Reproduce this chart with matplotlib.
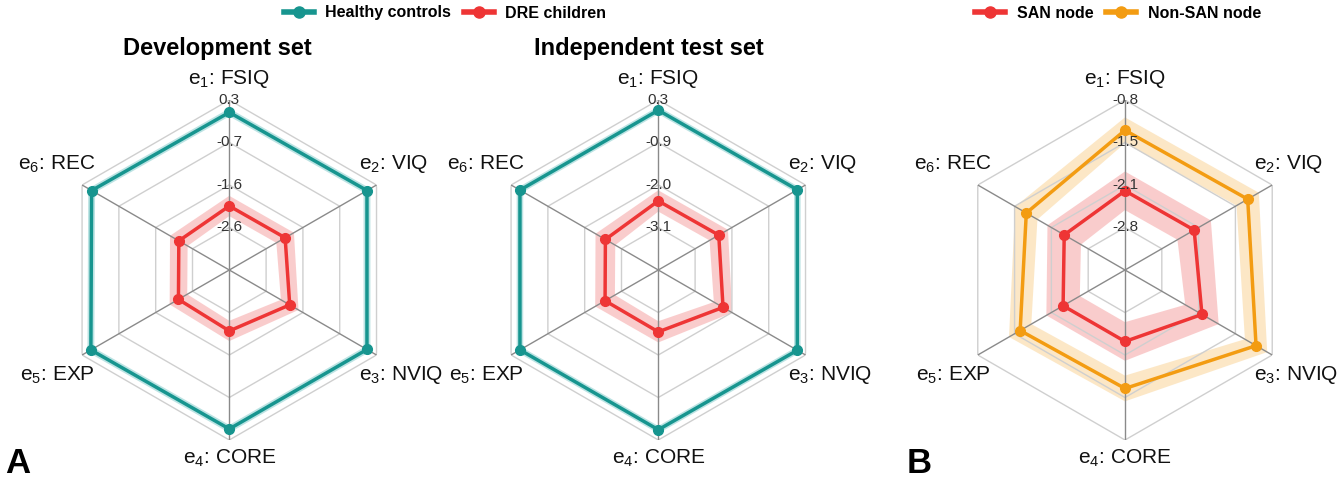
import numpy as np
import matplotlib
matplotlib.use("Agg")
import matplotlib.pyplot as plt
from matplotlib.lines import Line2D

plt.rcParams['font.family'] = ['Liberation Sans', 'DejaVu Sans']
plt.rcParams['mathtext.fontset'] = 'custom'
plt.rcParams['mathtext.rm'] = 'Liberation Sans'
plt.rcParams['mathtext.it'] = 'Liberation Sans'
plt.rcParams['mathtext.default'] = 'regular'

# ---------------- data ----------------
axis_labels = ["e$_1$: FSIQ", "e$_2$: VIQ", "e$_3$: NVIQ",
               "e$_4$: CORE", "e$_5$: EXP", "e$_6$: REC"]

# Panel A - development set
dev_healthy = [0.02, 0.05, 0.05, 0.05, 0.07, 0.05]
dev_healthy_ci = [0.09, 0.09, 0.09, 0.09, 0.09, 0.09]
dev_dre = [-2.10, -2.09, -1.97, -2.17, -2.22, -2.23]
dev_dre_ci = [0.23, 0.23, 0.23, 0.23, 0.23, 0.23]
dev_range = (-3.55, 0.30)
dev_ticklabels = ["0.3", "-0.7", "-1.6", "-2.6"]

# Panel A - independent test set
test_healthy = [-0.01, 0.01, 0.01, -0.01, -0.01, -0.01]
test_healthy_ci = [0.10, 0.10, 0.10, 0.10, 0.10, 0.10]
test_dre = [-2.40, -2.38, -2.25, -2.59, -2.60, -2.61]
test_dre_ci = [0.28, 0.28, 0.28, 0.28, 0.30, 0.30]
test_range = (-4.22, 0.26)
test_ticklabels = ["0.3", "-0.9", "-2.0", "-3.1"]

# Panel B - SAN vs non-SAN node
san = [-2.21, -2.20, -2.06, -2.33, -2.33, -2.35]
san_ci = [0.30, 0.30, 0.30, 0.30, 0.30, 0.30]
nonsan = [-1.27, -1.24, -1.09, -1.60, -1.56, -1.67]
nonsan_ci = [0.20, 0.20, 0.20, 0.20, 0.20, 0.20]
san_range = (-3.44, -0.80)
san_ticklabels = ["-0.8", "-1.5", "-2.1", "-2.8"]

# ---------------- style ----------------
TEAL = "#17958f"
TEAL_BAND = "#a6dada"
RED = "#ee3535"
RED_BAND = "#f8bcbc"
ORANGE = "#f39c12"
ORANGE_BAND = "#fbe0b4"

W, H = 1340, 482
fig = plt.figure(figsize=(W / 100, H / 100), dpi=100)

n = len(axis_labels)
theta = np.deg2rad(np.arange(n) * 360.0 / n)
theta_c = np.append(theta, theta[0])

# label placement: (ha, x offset px, y offset px) relative to outer vertex
label_place = [("center", 0, 21), ("left", -18, 21), ("left", -18, -20),
               ("center", 0, -18), ("right", 13, -20), ("right", 13, 21)]


def close(v):
    v = list(v)
    return np.array(v + [v[0]])


def radar(cx, cy, R, rng, ticklabels, series):
    ax = fig.add_axes([(cx - R) / W, (H - cy - R) / H, 2 * R / W, 2 * R / H],
                      projection='polar')
    ax.set_theta_offset(np.pi / 2)
    ax.set_theta_direction(-1)
    rmin, rmax = rng
    ax.set_ylim(rmin, rmax)
    ax.grid(False)
    ax.set_xticks([])
    ax.set_yticks([])
    ax.spines['polar'].set_visible(False)
    ax.patch.set_alpha(0)

    levels = np.linspace(rmax, rmin, 5)[:4]
    for lv in levels:
        ax.plot(theta_c, np.full(n + 1, lv), color="#cfcfcf", lw=1.0, zorder=2)
    for t in theta:
        ax.plot([t, t], [rmin, rmax], color="#8a8a8a", lw=1.0, zorder=2)

    for vals, ci, col, band in series:
        vals = np.array(vals)
        ci = np.array(ci)
        up = close(vals + ci)
        lo = close(vals - ci)
        th = np.concatenate([theta_c, theta_c[::-1]])
        rr = np.concatenate([up, lo[::-1]])
        ax.fill(th, rr, color=band, alpha=0.75, lw=0, zorder=1)
        ax.plot(theta_c, close(vals), color=col, lw=2.5, zorder=4,
                marker='o', ms=7, markevery=list(range(n)))

    for lv, lab in zip(levels, ticklabels):
        ax.text(0, lv, lab, ha='center', va='center', fontsize=11,
                color="#333333", zorder=5)

    for t, lab, (ha, ox, oy) in zip(theta, axis_labels, label_place):
        ax.annotate(lab, xy=(t, rmax), xytext=(ox, oy),
                    textcoords='offset pixels', ha=ha, va='center',
                    fontsize=15, color="#111111", annotation_clip=False)
    return ax


radar(229.3, 270, 170, dev_range, dev_ticklabels,
      [(dev_healthy, dev_healthy_ci, TEAL, TEAL_BAND),
       (dev_dre, dev_dre_ci, RED, RED_BAND)])
radar(658.3, 270, 170, test_range, test_ticklabels,
      [(test_healthy, test_healthy_ci, TEAL, TEAL_BAND),
       (test_dre, test_dre_ci, RED, RED_BAND)])
radar(1125, 270, 170, san_range, san_ticklabels,
      [(nonsan, nonsan_ci, ORANGE, ORANGE_BAND),
       (san, san_ci, RED, RED_BAND)])

fig.text(217.5 / W, 1 - 49 / H, "Development set", ha='center', va='center',
         fontsize=17, fontweight='bold')
fig.text(649 / W, 1 - 49 / H, "Independent test set", ha='center', va='center',
         fontsize=17, fontweight='bold')

fig.text(5 / W, 9 / H, "A", ha='left', va='baseline', fontsize=25, fontweight='bold')
fig.text(907 / W, 9 / H, "B", ha='left', va='baseline', fontsize=25, fontweight='bold')


def handle(col):
    return Line2D([0], [0], color=col, lw=4, marker='o', ms=8)


leg_kw = dict(ncol=2, frameon=False, handlelength=1.9, handletextpad=0.7,
              columnspacing=0.8, prop={'size': 11.5, 'weight': 'bold'},
              loc='center', borderaxespad=0, borderpad=0)
fig.legend([handle(TEAL), handle(RED)], ["Healthy controls", "DRE children"],
           bbox_to_anchor=(445 / W, 1 - 13 / H), **leg_kw)
fig.legend([handle(RED), handle(ORANGE)], ["SAN node", "Non-SAN node"],
           bbox_to_anchor=(1118 / W, 1 - 13 / H), **leg_kw)

fig.savefig("out.png", dpi=100)
